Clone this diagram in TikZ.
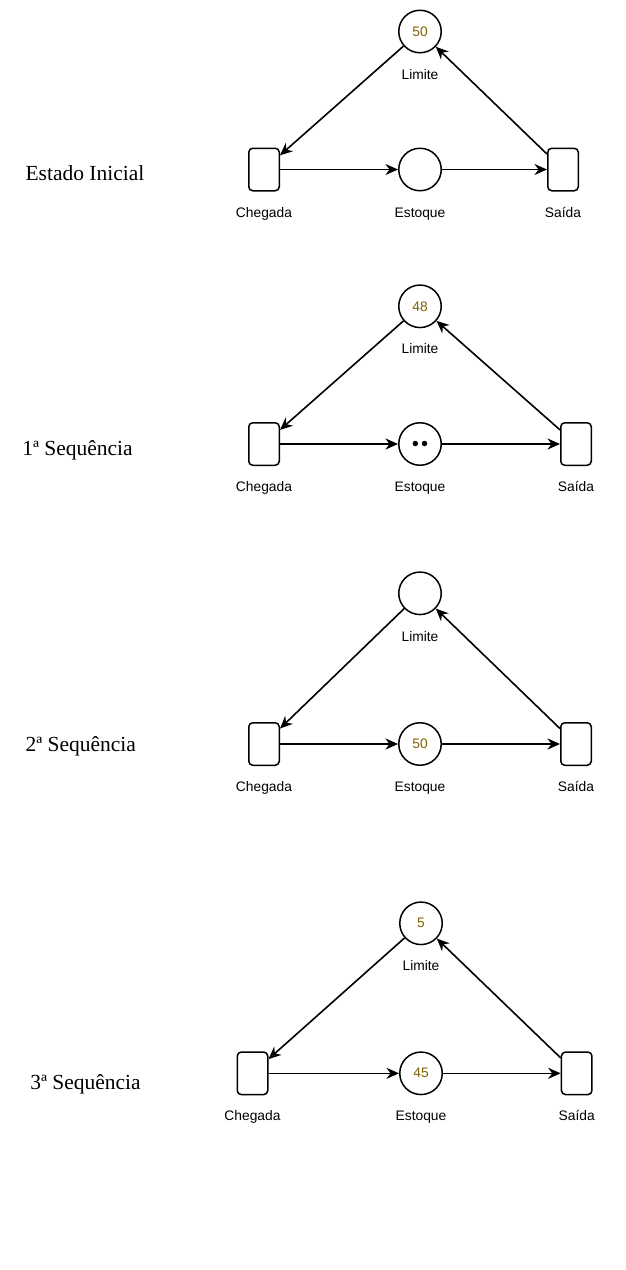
\documentclass[tikz,border=0pt]{standalone}
\usepackage{fontspec}
\setmainfont{Liberation Serif}
\newfontfamily\sansf{Liberation Sans}
\usetikzlibrary{arrows.meta}
\definecolor{numcol}{RGB}{127,96,0}
\tikzset{
  place/.style={circle,draw,line width=1.5pt,minimum size=42.5pt,inner sep=0pt,
    font=\sansf\fontsize{13.8}{16}\selectfont,text=numcol},
  trans/.style={rectangle,draw,rounded corners=4pt,line width=1.5pt,
    minimum width=30.5pt,minimum height=42.5pt,inner sep=0pt},
  lbl/.style={anchor=base,inner sep=0pt,font=\sansf\fontsize{13.8}{16}\selectfont},
  ttl/.style={anchor=base,inner sep=0pt,font=\fontsize{21.5}{25}\selectfont},
  arc/.style={line width=1.6pt,-{Stealth[length=12.5pt,width=11pt,inset=4pt]}},
  token/.style={circle,fill=black,inner sep=0pt,minimum size=5.5pt}
}
\begin{document}
\begin{tikzpicture}[x=1pt,y=-1pt]
\useasboundingbox (0,0) rectangle (626,1270);
% ---------- Block 1 ----------
\node[place] (L1) at (420,31.5) {50};
\node[trans] (C1) at (264,169.5) {};
\node[place] (E1) at (420,169.5) {};
\node[trans] (S1) at (563,169.5) {};
\node[lbl] (lL1) at (420,79) {Limite};
\node[lbl] (lC1) at (264,217) {Chegada};
\node[lbl] (lE1) at (420,217) {Estoque};
\node[lbl] (lS1) at (563,217) {Saída};
\node[ttl] (T1) at (85,180) {Estado Inicial};
\draw[arc] (L1) -- (C1);
\draw[arc] (C1) -- (E1);
\draw[arc] (E1) -- (S1);
\draw[arc] (S1) -- (L1);
% ---------- Block 2 ----------
\node[place] (L2) at (420,306.3) {48};
\node[trans] (C2) at (264,444) {};
\node[place] (E2) at (420,444) {};
\node[token] (k1) at (415.3,443.5) {};
\node[token] (k2) at (424.5,443.5) {};
\node[trans] (S2) at (576,444) {};
\node[lbl] (lL2) at (420,353.8) {Limite};
\node[lbl] (lC2) at (264,491.5) {Chegada};
\node[lbl] (lE2) at (420,491.5) {Estoque};
\node[lbl] (lS2) at (576,491.5) {Saída};
\node[ttl] (T2) at (77.5,455.5) {1ª Sequência};
\draw[arc] (L2) -- (C2);
\draw[arc] (C2) -- (E2);
\draw[arc] (E2) -- (S2);
\draw[arc] (S2) -- (L2);
% ---------- Block 3 ----------
\node[place] (L3) at (420,593.3) {};
\node[trans] (C3) at (264,744) {};
\node[place] (E3) at (420,744) {50};
\node[trans] (S3) at (576,744) {};
\node[lbl] (lL3) at (420,641) {Limite};
\node[lbl] (lC3) at (264,791.5) {Chegada};
\node[lbl] (lE3) at (420,791.5) {Estoque};
\node[lbl] (lS3) at (576,791.5) {Saída};
\node[ttl] (T3) at (80.8,751.7) {2ª Sequência};
\draw[arc] (L3) -- (C3);
\draw[arc] (C3) -- (E3);
\draw[arc] (E3) -- (S3);
\draw[arc] (S3) -- (L3);
% ---------- Block 4 ----------
\node[place] (L4) at (421,923.3) {5};
\node[trans] (C4) at (252.5,1073.3) {};
\node[place] (E4) at (421,1073.3) {45};
\node[trans] (S4) at (576.7,1073.3) {};
\node[lbl] (lL4) at (421,970.8) {Limite};
\node[lbl] (lC4) at (252.5,1120.8) {Chegada};
\node[lbl] (lE4) at (421,1120.8) {Estoque};
\node[lbl] (lS4) at (576.7,1120.8) {Saída};
\node[ttl] (T4) at (85.5,1089.3) {3ª Sequência};
\draw[arc] (L4) -- (C4);
\draw[arc] (C4) -- (E4);
\draw[arc] (E4) -- (S4);
\draw[arc] (S4) -- (L4);
\end{tikzpicture}
\end{document}
